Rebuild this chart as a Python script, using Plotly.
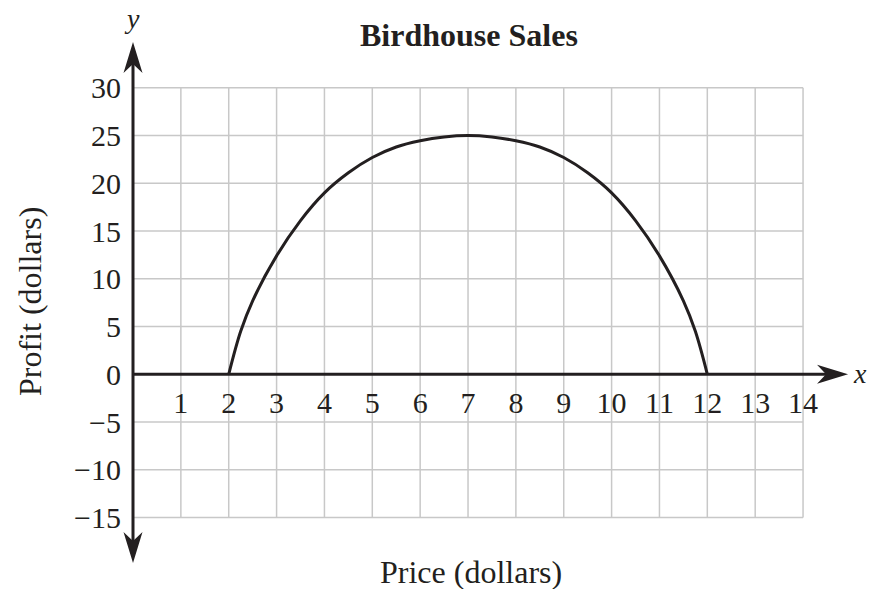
import plotly.graph_objects as go

# ---- data -------------------------------------------------------------
price = [2, 2.25, 2.5, 3, 3.5, 4, 4.5, 5, 5.5, 6, 6.5, 7,
         7.5, 8, 8.5, 9, 9.5, 10, 10.5, 11, 11.5, 11.75, 12]
profit = [0, 4.5, 7.7, 12.4, 16.1, 19, 21.1, 22.7, 23.8, 24.45, 24.85, 25,
          24.85, 24.45, 23.8, 22.7, 21.1, 19, 16.1, 12.4, 7.7, 4.5, 0]

x_ticks = list(range(1, 15))
y_ticks = list(range(-15, 31, 5))

grid_x = (0, 14)
grid_y = (-15, 30)
x_arrow_end = 14.94
y_arrow_ends = (-19.75, 34.8)

# ---- geometry ---------------------------------------------------------
W, H = 870, 589
PX_X, PX_Y = 47.86, 9.55          # pixels per unit
ML, MR, MT, MB = 118, 5, 30, 10
plot_w, plot_h = W - ML - MR, H - MT - MB
x_min = -(133 - ML) / PX_X
x_max = x_min + plot_w / PX_X
y_max = (374.3 - MT) / PX_Y
y_min = y_max - plot_h / PX_Y

INK = "#231f20"
GRID = "#c8c8c8"
FONT = "Liberation Serif"
TICK_SIZE = 30
LABEL_SIZE = 32


def paper_x(px):
    return (px - ML) / plot_w


def paper_y(py):
    return 1 - (py - MT) / plot_h


fig = go.Figure()

fig.add_trace(go.Scatter(
    x=price, y=profit, mode="lines",
    line=dict(color=INK, width=3, shape="spline", smoothing=1.0),
    hoverinfo="skip", showlegend=False,
))

shapes = []
# grid
for xv in range(grid_x[0] + 1, grid_x[1] + 1):
    shapes.append(dict(type="line", xref="x", yref="y", x0=xv, x1=xv,
                       y0=grid_y[0], y1=grid_y[1], layer="below",
                       line=dict(color=GRID, width=1.5)))
for yv in y_ticks:
    shapes.append(dict(type="line", xref="x", yref="y", x0=grid_x[0], x1=grid_x[1],
                       y0=yv, y1=yv, layer="below",
                       line=dict(color=GRID, width=1.5)))

# axis lines
shapes.append(dict(type="line", xref="x", yref="y", x0=0, x1=x_arrow_end - 0.3,
                   y0=0, y1=0, line=dict(color=INK, width=3)))
shapes.append(dict(type="line", xref="x", yref="y", x0=0, x1=0,
                   y0=y_arrow_ends[0] + 2, y1=y_arrow_ends[1] - 2,
                   line=dict(color=INK, width=3)))

# arrowheads (pixel-sized, anchored at the tips)
HEAD_L, HEAD_W, NOTCH = 31, 9.5, 22
up = f"M0,0 L{-HEAD_W},{-HEAD_L} L0,{-NOTCH} L{HEAD_W},{-HEAD_L} Z"
down = f"M0,0 L{-HEAD_W},{HEAD_L} L0,{NOTCH} L{HEAD_W},{HEAD_L} Z"
right = f"M0,0 L{-HEAD_L},{HEAD_W} L{-NOTCH},0 L{-HEAD_L},{-HEAD_W} Z"
for path, ax, ay in [(up, 0, y_arrow_ends[1]), (down, 0, y_arrow_ends[0]),
                     (right, x_arrow_end, 0)]:
    shapes.append(dict(type="path", xref="x", yref="y", xsizemode="pixel",
                       ysizemode="pixel", xanchor=ax, yanchor=ay, path=path,
                       fillcolor=INK, line=dict(color=INK, width=0)))

annotations = [
    dict(text="Price (dollars)", x=paper_x(471), y=paper_y(572), xref="paper", yref="paper",
         showarrow=False, font=dict(family=FONT, size=LABEL_SIZE, color=INK),
         xanchor="center", yanchor="middle"),
    dict(text="Profit (dollars)", x=paper_x(30), y=paper_y(302), xref="paper", yref="paper",
         showarrow=False, textangle=-90, font=dict(family=FONT, size=LABEL_SIZE, color=INK),
         xanchor="center", yanchor="middle"),
    dict(text="<i>y</i>", x=paper_x(132), y=paper_y(19), xref="paper", yref="paper",
         showarrow=False, font=dict(family=FONT, size=28, color=INK), borderpad=0,
         xanchor="center", yanchor="middle"),
    dict(text="<i>x</i>", x=paper_x(860), y=paper_y(373), xref="paper", yref="paper",
         showarrow=False, font=dict(family=FONT, size=28, color=INK), borderpad=0,
         xanchor="center", yanchor="middle"),
    dict(text="<b>Birdhouse Sales</b>", x=paper_x(469), y=paper_y(35), xref="paper", yref="paper",
         showarrow=False, font=dict(family=FONT, size=LABEL_SIZE, color=INK),
         xanchor="center", yanchor="middle"),
]

fig.update_layout(
    width=W, height=H,
    margin=dict(l=ML, r=MR, t=MT, b=MB),
    paper_bgcolor="white", plot_bgcolor="white",
    showlegend=False,
    shapes=shapes,
    annotations=annotations,
    xaxis=dict(range=[x_min, x_max], showgrid=False, zeroline=False, showline=False,
               tickmode="array", tickvals=x_ticks, ticktext=[str(v) for v in x_ticks],
               anchor="free", position=(0 - y_min) / (y_max - y_min), side="bottom",
               ticks="", ticklabelstandoff=8,
               tickfont=dict(family=FONT, size=TICK_SIZE, color=INK), fixedrange=True),
    yaxis=dict(range=[y_min, y_max], showgrid=False, zeroline=False, showline=False,
               tickmode="array", tickvals=y_ticks,
               anchor="free", position=(0 - x_min) / (x_max - x_min), side="left",
               ticks="", ticklabelstandoff=12,
               tickfont=dict(family=FONT, size=TICK_SIZE, color=INK), fixedrange=True),
)

fig.write_html("out.html")
